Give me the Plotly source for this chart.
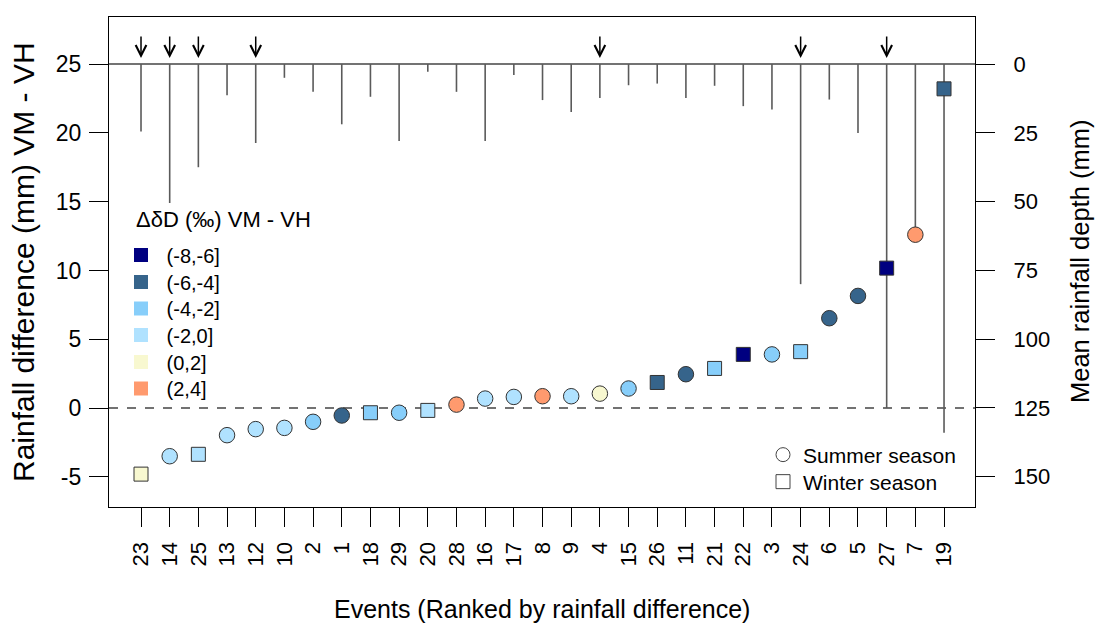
import plotly.graph_objects as go

# ---------------- data (ranked by rainfall difference) ----------------
events = [23, 14, 25, 13, 12, 10, 2, 1, 18, 29, 20, 28, 16, 17, 8, 9, 4, 15, 26, 11,
          21, 22, 3, 24, 6, 5, 27, 7, 19]
rain_diff = [-4.8, -3.5, -3.36, -1.97, -1.53, -1.44, -1.0, -0.54, -0.34, -0.34, -0.17,
             0.25, 0.69, 0.81, 0.86, 0.86, 1.05, 1.42, 1.86, 2.46, 2.88, 3.9, 3.9, 4.1,
             6.53, 8.15, 10.17, 12.6, 23.2]
rain_depth = [24.5, 50.5, 37.5, 11.3, 28.7, 5.0, 10.1, 21.9, 11.9, 28.0, 2.8, 10.1, 28.0,
              4.0, 13.1, 17.4, 12.3, 7.7, 7.1, 12.3, 7.9, 15.3, 16.5, 80.0, 12.9, 25.1,
              125.0, 62.0, 134.0]
season = ["W", "S", "W", "S", "S", "S", "S", "S", "W", "S", "W", "S", "S", "S", "S", "S",
          "S", "S", "W", "S", "W", "W", "S", "W", "S", "S", "W", "S", "W"]
dD_class = ["(0,2]", "(-2,0]", "(-2,0]", "(-2,0]", "(-2,0]", "(-2,0]", "(-4,-2]", "(-6,-4]",
            "(-4,-2]", "(-4,-2]", "(-2,0]", "(2,4]", "(-2,0]", "(-2,0]", "(2,4]", "(-2,0]",
            "(0,2]", "(-4,-2]", "(-6,-4]", "(-6,-4]", "(-4,-2]", "(-8,-6]", "(-4,-2]",
            "(-4,-2]", "(-6,-4]", "(-6,-4]", "(-8,-6]", "(2,4]", "(-6,-4]"]
arrow_events = [23, 14, 25, 12, 4, 24, 27]

class_labels = ["(-8,-6]", "(-6,-4]", "(-4,-2]", "(-2,0]", "(0,2]", "(2,4]"]
class_colors = ["#000080", "#36648B", "#87CEFA", "#B0E2FF", "#F8F8D0", "#FF9A6E"]
season_labels = ["Summer season", "Winter season"]

left_ticks = [-5, 0, 5, 10, 15, 20, 25]
left_ticklabels = ["-5", "0", "5", "10", "15", "20", "25"]
right_ticks = [0, 25, 50, 75, 100, 125, 150]

FONT = "Arial, 'Liberation Sans', sans-serif"
cmap = dict(zip(class_labels, class_colors))
rank = list(range(1, len(events) + 1))

# page geometry of the plotting box (pixels), used for legend placement
L, R, T, B = 109, 975, 17, 507


def px_x(p):
    return (p - L) / (R - L)


def px_y(p):
    return 1 - (p - T) / (B - T)


fig = go.Figure()

# rainfall depth bars (hanging from top, right axis)
bx, by = [], []
for r, d in zip(rank, rain_depth):
    bx += [r, r, None]
    by += [0, d, None]
fig.add_trace(go.Scatter(x=bx, y=by, mode="lines", yaxis="y2",
                         line=dict(color="#5a5a5a", width=1.6),
                         showlegend=False, hoverinfo="skip"))

# points by season
for s, sym, size in [("S", "circle", 15.5), ("W", "square", 14)]:
    idx = [i for i, v in enumerate(season) if v == s]
    fig.add_trace(go.Scatter(
        x=[rank[i] for i in idx], y=[rain_diff[i] for i in idx], mode="markers",
        yaxis="y",
        marker=dict(symbol=sym, size=size, color=[cmap[dD_class[i]] for i in idx],
                    line=dict(color="#333333", width=1)),
        showlegend=False))

legends = {}
# class legend: one legend per entry for exact spacing
class_rows = [255, 282, 308.5, 335, 362, 388.5]
for k, (lab, col) in enumerate(zip(class_labels, class_colors)):
    name = "legend%d" % (k + 2) if k > 0 else "legend"
    fig.add_trace(go.Scatter(x=[None], y=[None], mode="markers", name="\u00a0" + lab,
                             marker=dict(symbol="square", size=14, color=col,
                                         line=dict(width=0)),
                             legend=name))
    key = "legend" if k == 0 else "legend%d" % (k + 2)
    legends[key] = dict(x=px_x(121), y=px_y(class_rows[k]), xanchor="left",
                        yanchor="middle", font=dict(size=20, family=FONT),
                        bgcolor="rgba(0,0,0,0)")
# season legend
season_rows = [455, 482]
for k, (lab, sym) in enumerate(zip(season_labels, ["circle", "square"])):
    key = "legend%d" % (k + 8)
    fig.add_trace(go.Scatter(x=[None], y=[None], mode="markers", name=lab,
                             marker=dict(symbol=sym, size=14, color="white",
                                         line=dict(color="#444444", width=1)),
                             legend=key))
    legends[key] = dict(x=px_x(763), y=px_y(season_rows[k]), xanchor="left",
                        yanchor="middle", font=dict(size=21, family=FONT),
                        bgcolor="rgba(0,0,0,0)")

# arrows
annotations = []
for ev in arrow_events:
    r = rank[events.index(ev)]
    annotations.append(dict(x=r, y=0, xref="x", yref="y2", showarrow=True,
                            ax=0, ay=-29, axref="pixel", ayref="pixel",
                            arrowhead=5, arrowsize=1.4, arrowwidth=1.5,
                            arrowcolor="black", standoff=6, text=""))

# titles
annotations += [
    dict(text="ΔδD (‰) VM - VH", x=px_x(134), y=px_y(219), xref="paper", yref="paper",
         showarrow=False, xanchor="left", yanchor="middle",
         font=dict(size=22, family=FONT, color="black")),
    dict(text="Rainfall difference (mm) VM - VH", x=px_x(23), y=0.5, xref="paper",
         yref="paper", textangle=-90, showarrow=False, xanchor="center",
         yanchor="middle", font=dict(size=30, family=FONT, color="black")),
    dict(text="Mean rainfall depth (mm)", x=px_x(1080), y=0.5, xref="paper",
         yref="paper", textangle=-90, showarrow=False, xanchor="center",
         yanchor="middle", font=dict(size=25.5, family=FONT, color="black")),
    dict(text="Events (Ranked by rainfall difference)", x=0.5, y=px_y(609), xref="paper",
         yref="paper", showarrow=False, xanchor="center", yanchor="middle",
         font=dict(size=25, family=FONT, color="black")),
]

shapes = [
    dict(type="line", xref="paper", x0=0, x1=1, yref="y", y0=0, y1=0,
         line=dict(color="#444444", width=1.6, dash="dash"), layer="below"),
    dict(type="line", xref="paper", x0=0, x1=1, yref="y2", y0=0, y1=0,
         line=dict(color="#444444", width=1.6), layer="below"),
]

fig.update_layout(
    width=1095, height=628,
    margin=dict(l=L, r=1095 - R, t=T, b=628 - B),
    paper_bgcolor="white", plot_bgcolor="white",
    font=dict(family=FONT, color="black"),
    xaxis=dict(range=[-0.116, 30.08], tickvals=rank, ticktext=[str(e) for e in events],
               tickangle=-90, ticks="outside", ticklen=19, tickwidth=1, tickcolor="black",
               ticklabelstandoff=6,
               showline=True, linecolor="black", linewidth=1.2, mirror=True,
               showgrid=False, zeroline=False, tickfont=dict(size=22, family=FONT)),
    yaxis=dict(range=[-7.19, 28.42], tickvals=left_ticks, ticktext=left_ticklabels,
               overlaying="y2", side="left",
               ticks="outside", ticklen=19, tickwidth=1, tickcolor="black",
               ticklabelstandoff=3,
               showline=True, linecolor="black", linewidth=1.2, mirror=True,
               showgrid=False, zeroline=False, tickfont=dict(size=23, family=FONT)),
    yaxis2=dict(range=[161.0, -17.1], tickvals=right_ticks, side="right",
                ticks="outside", ticklen=19, tickwidth=1, tickcolor="black",
                ticklabelstandoff=14,
                showline=True, linecolor="black", linewidth=1.2,
                showgrid=False, zeroline=False, tickfont=dict(size=22, family=FONT)),
    annotations=annotations, shapes=shapes,
    **legends,
)

fig.write_html("out.html")
